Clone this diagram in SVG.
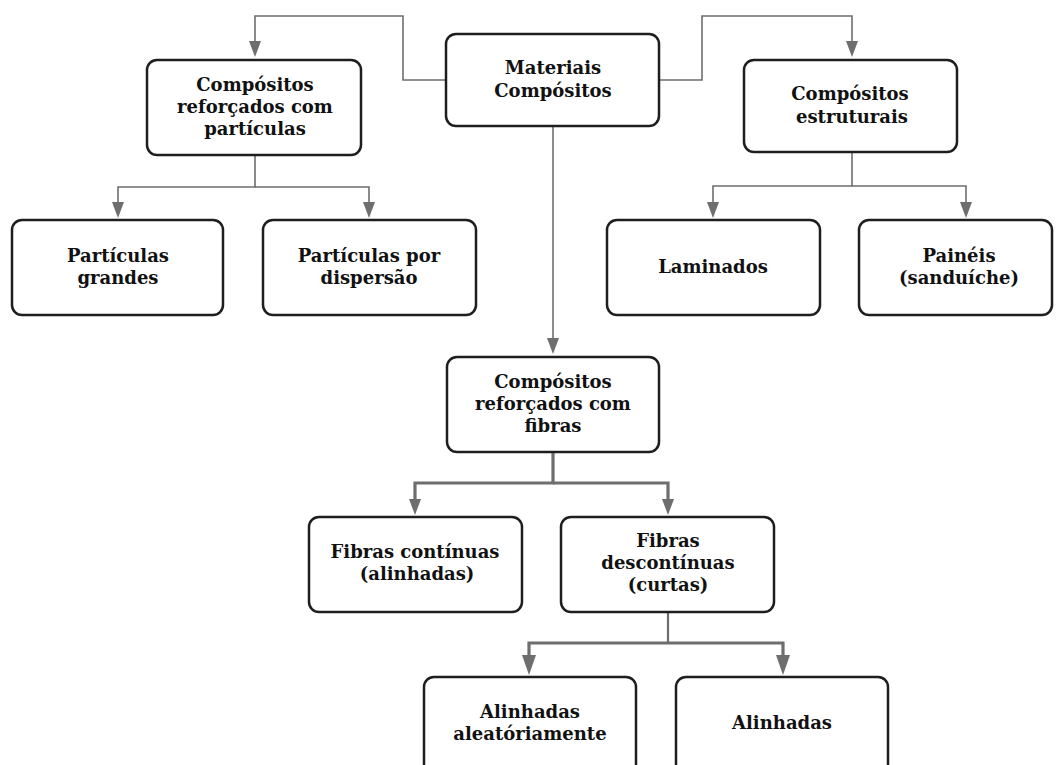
<svg xmlns="http://www.w3.org/2000/svg" width="1061" height="765" viewBox="0 0 1061 765">
<style>
.box{fill:#fff;stroke:#1e1e1e;stroke-width:2.5}
.t{font-family:"DejaVu Serif","Liberation Serif",serif;font-weight:bold;font-size:18px;fill:#111;text-anchor:middle}
.c{fill:none;stroke:#6e6e6e;stroke-width:1.6}
.ck{fill:none;stroke:#6e6e6e;stroke-width:3.2}
</style>
<defs>
<marker id="a" markerUnits="userSpaceOnUse" markerWidth="16" markerHeight="12" viewBox="0 0 16 12" refX="0" refY="6" orient="auto">
<path d="M0,0 L16,6 L0,12 z" fill="#6e6e6e"/>
</marker>
<marker id="ak" markerUnits="userSpaceOnUse" markerWidth="20" markerHeight="14" viewBox="0 0 20 14" refX="0" refY="7" orient="auto">
<path d="M0,0 L20,7 L0,14 z" fill="#6e6e6e"/>
</marker>
</defs>
<rect width="1061" height="765" fill="#fff"/>
<g id="connectors">
<path class="c" d="M446,80 H403 V16 H255 V41" marker-end="url(#a)"/>
<path class="c" d="M659,80 H702 V16 H852 V41" marker-end="url(#a)"/>
<path class="c" d="M553,126 V338" marker-end="url(#a)"/>
<path class="c" d="M255,155 V187 H118 V202" marker-end="url(#a)"/>
<path class="c" d="M255,187 H369 V202" marker-end="url(#a)"/>
<path class="c" d="M852,152 V186 H713 V202" marker-end="url(#a)"/>
<path class="c" d="M852,186 H966 V202" marker-end="url(#a)"/>
<path class="ck" d="M553,452 V483 H415 V499" marker-end="url(#a)"/>
<path class="ck" d="M553,483 H668 V499" marker-end="url(#a)"/>
<path class="c" d="M668,612 V643" style="stroke-width:2.2"/>
<path class="ck" d="M668,643 H529 V655" marker-end="url(#ak)"/>
<path class="ck" d="M668,643 H783 V655" marker-end="url(#ak)"/>
</g>
<g id="materiais">
<rect class="box" x="446" y="34" width="213" height="92" rx="10"/>
<text class="t" x="553" y="74">Materiais<tspan x="553" dy="23">Compósitos</tspan></text>
</g>
<g id="particulas">
<rect class="box" x="147" y="60" width="214" height="95" rx="10"/>
<text class="t" x="255" y="91">Compósitos<tspan x="255" dy="22">reforçados com</tspan><tspan x="255" dy="22">partículas</tspan></text>
</g>
<g id="estruturais">
<rect class="box" x="744" y="60" width="213" height="92" rx="10"/>
<text class="t" x="850" y="100">Compósitos<tspan x="852" dy="23">estruturais</tspan></text>
</g>
<g id="grandes">
<rect class="box" x="12" y="220" width="211" height="95" rx="10"/>
<text class="t" x="118" y="262">Partículas<tspan x="118" dy="22">grandes</tspan></text>
</g>
<g id="dispersao">
<rect class="box" x="263" y="220" width="213" height="95" rx="10"/>
<text class="t" x="369" y="262">Partículas por<tspan x="369" dy="22">dispersão</tspan></text>
</g>
<g id="laminados">
<rect class="box" x="607" y="220" width="213" height="95" rx="10"/>
<text class="t" x="713" y="273">Laminados</text>
</g>
<g id="paineis">
<rect class="box" x="859" y="220" width="193" height="95" rx="10"/>
<text class="t" x="959" y="262">Painéis<tspan x="959" dy="22">(sanduíche)</tspan></text>
</g>
<g id="fibras">
<rect class="box" x="447" y="357" width="212" height="95" rx="10"/>
<text class="t" x="553" y="388">Compósitos<tspan x="553" dy="22">reforçados com</tspan><tspan x="553" dy="22">fibras</tspan></text>
</g>
<g id="continuas">
<rect class="box" x="309" y="517" width="213" height="95" rx="10"/>
<text class="t" x="415" y="558">Fibras contínuas<tspan x="417" dy="22">(alinhadas)</tspan></text>
</g>
<g id="descontinuas">
<rect class="box" x="561" y="517" width="213" height="95" rx="10"/>
<text class="t" x="668" y="547">Fibras<tspan x="668" dy="22">descontínuas</tspan><tspan x="668" dy="22">(curtas)</tspan></text>
</g>
<g id="aleatoriamente">
<rect class="box" x="424" y="677" width="212" height="100" rx="10"/>
<text class="t" x="530" y="718">Alinhadas<tspan x="530" dy="22">aleatóriamente</tspan></text>
</g>
<g id="alinhadas">
<rect class="box" x="676" y="677" width="212" height="100" rx="10"/>
<text class="t" x="782" y="729">Alinhadas</text>
</g>
</svg>
